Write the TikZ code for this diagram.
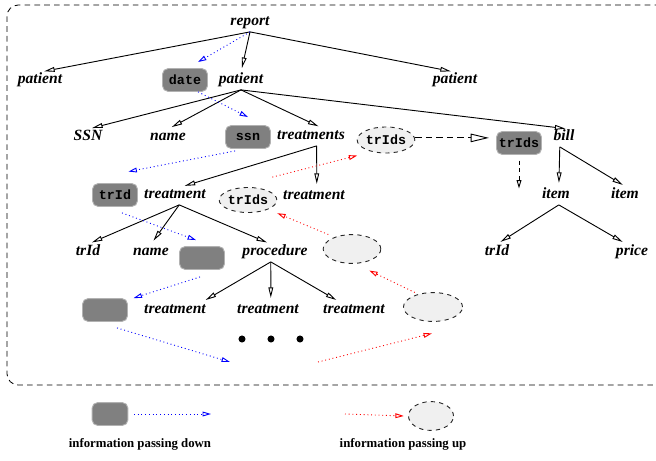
\documentclass[tikz,border=0pt]{standalone}
\usepackage{fontspec}
\setmainfont{Liberation Serif}
\setmonofont{Liberation Mono}
\usetikzlibrary{arrows.meta}
\usetikzlibrary{shapes.geometric}

\tikzset{
  lbl/.style={font=\fontsize{11.1}{12}\selectfont\bfseries\itshape, inner sep=1pt, text height=7pt, text depth=3pt},
  infobox/.style={draw=gray!60, fill=gray, rounded corners=4pt, minimum width=32pt, minimum height=16.3pt, inner sep=0pt, font=\fontsize{9.5}{10}\selectfont\ttfamily\bfseries},
  upell/.style={ellipse, draw=black!85, dashed, fill=black!6, minimum width=41pt, minimum height=18.5pt, inner sep=0pt, font=\fontsize{9.5}{10}\selectfont\ttfamily\bfseries},
  tree/.style={-{Triangle[open, length=7.5pt, width=3.4pt]}, shorten >=3pt},
  passdown/.style={blue, dotted, -{Triangle[open, length=6pt, width=3.4pt]}},
  passup/.style={red, dotted, -{Triangle[open, length=6pt, width=3.4pt]}},
  legendtxt/.style={font=\fontsize{9.1}{11}\selectfont\bfseries}
}

\begin{document}
\begin{tikzpicture}[x=0.025cm, y=-0.025cm, line width=0.65pt]
    \useasboundingbox (0,0) rectangle (656,460);
    % frame, open on the right
    \draw[dash pattern=on 4pt off 3pt, line width=0.6pt, rounded corners=8pt] (670,5) -- (7,5) -- (7,385) -- (670,385);

    % document tree
    \node[lbl] (rep) at (250,23) {report};
    \node[lbl] (patL) at (40,81) {patient};
    \node[infobox] (date) at (185,80) {date};
    \node[lbl] (patM) at (241,81) {patient};
    \node[lbl] (patR) at (455,81) {patient};
    \node[lbl] (ssnLbl) at (88,138) {SSN};
    \node[lbl] (nameA) at (168,138) {name};
    \node[infobox] (ssn) at (248,137) {ssn};
    \node[lbl] (trts) at (311,137) {treatments};
    \node[upell] (trIdsA) at (386,140) {trIds};
    \node[infobox] (trIdsB) at (519,143) {trIds};
    \node[lbl] (bill) at (564,138) {bill};
    \node[infobox] (trIdBox) at (115,195) {trId};
    \node[lbl] (trtA) at (175,196) {treatment};
    \node[upell, minimum height=17.8pt] (trIdsC) at (248,200) {trIds};
    \node[lbl] (trtB) at (314,197) {treatment};
    \node[lbl] (itemA) at (556,196) {item};
    \node[lbl] (itemB) at (625,196) {item};
    \node[lbl] (trIdA) at (88,253) {trId};
    \node[lbl] (nameB) at (151,253) {name};
    \node[infobox] (blankA) at (202,258) {};
    \node[lbl] (proc) at (275,253) {procedure};
    \node[upell, minimum height=20.5pt] (upA) at (352,249) {};
    \node[lbl] (trIdB) at (497,253) {trId};
    \node[lbl] (price) at (632,253) {price};
    \node[infobox] (blankB) at (105,310) {};
    \node[lbl] (trtC) at (175,311) {treatment};
    \node[lbl] (trtD) at (268,311) {treatment};
    \node[lbl] (trtE) at (354,311) {treatment};
    \node[upell, minimum width=42pt, minimum height=20.5pt] (upB) at (433,307) {};
    \node[circle, fill, inner sep=0pt, minimum size=5pt] (dotA) at (242,339) {};
    \node[circle, fill, inner sep=0pt, minimum size=5pt] (dotB) at (271,339) {};
    \node[circle, fill, inner sep=0pt, minimum size=5pt] (dotC) at (300,339) {};
    \coordinate (gapL) at (230,362);
    \coordinate (gapR) at (318,362);

    % edges
    \draw[tree] (rep.south) -- (patL.north);
    \draw[tree] (rep.south) -- (patM.north);
    \draw[tree] (rep.south) -- (patR.north);
    \draw[tree] (patM.south) -- (ssnLbl.north);
    \draw[tree] (patM.south) -- (nameA.north);
    \draw[tree] (patM.south) -- ([xshift=8pt]trts.north);
    \draw[tree] (patM.south) -- ([xshift=4pt]bill.north);
    \draw[tree] ([xshift=4pt]trts.south) -- ([xshift=4pt]trtA.north);
    \draw[tree] ([xshift=4pt]trts.south) -- ([xshift=2pt]trtB.north);
    \draw[tree] ([xshift=-3pt]bill.south) -- ([xshift=2pt]itemA.north);
    \draw[tree] ([xshift=-3pt]bill.south) -- ([xshift=1pt]itemB.north);
    \draw[tree] ([xshift=3pt]trtA.south) -- (trIdA.north);
    \draw[tree] ([xshift=3pt]trtA.south) -- (nameB.north);
    \draw[tree] ([xshift=3pt]trtA.south) -- ([xshift=-3pt]proc.north);
    \draw[tree] ([xshift=-3pt]proc.south) -- ([xshift=-4pt]trtC.north east);
    \draw[tree] ([xshift=-3pt]proc.south) -- ([xshift=2pt]trtD.north);
    \draw[tree] ([xshift=-3pt]proc.south) -- ([xshift=-10pt]trtE.north);
    \draw[tree] ([xshift=2pt]itemA.south) -- (trIdB.north);
    \draw[tree] ([xshift=2pt]itemA.south) -- ([xshift=-4pt]price.north);

    % trIds handed across to the bill
    \draw[dash pattern=on 4.5pt off 3pt, -{Triangle[open, length=13pt, width=6pt]}, shorten >=5pt] ([yshift=1.5pt]trIdsA.east) -- ([yshift=1.5pt]trIdsA.east -| trIdsB.west);
    \draw[dash pattern=on 3pt off 2.5pt, -{Triangle[open, length=6pt, width=3.4pt]}] ([yshift=-4pt]trIdsB.south) -- ++(0,28);

    % information passing down
    \draw[passdown] (rep.south) -- ([shift={(-10,-6)}]date.north east);
    \draw[passdown] ([xshift=-7pt]date.south east) -- ([shift={(0,-8)}]ssn.north);
    \draw[passdown] ([shift={(10,2)}]ssn.south west) -- ([shift={(-9.5,-11.5)}]trIdBox.north east);
    \draw[passdown] ([shift={(7,6)}]trIdBox.south) -- ([shift={(-6,-6)}]blankA.north);
    \draw[passdown] ([shift={(-2,7)}]blankA.south) -- ([xshift=4pt]blankB.north east);
    \draw[passdown] ([shift={(12,6)}]blankB.south) -- (gapL);

    % information passing up
    \draw[passup] (gapR) -- ([shift={(-1,11.5)}]upB.south);
    \draw[passup] ([shift={(3,-4)}]upB.north west) -- ([shift={(-3.5,11)}]upA.south east);
    \draw[passup] ([shift={(-3,-4)}]upA.north west) -- ([shift={(8.5,4)}]trIdsC.south east);
    \draw[passup] ([shift={(-9,-11)}]trtB.north west) -- ([shift={(-8,6)}]trIdsA.south west);

    % legend
    \node[infobox, minimum width=25.5pt] (lgBox) at (110,414) {};
    \coordinate (lgDn) at (211,414);
    \draw[passdown] ([xshift=4pt]lgBox.east) -- (lgDn);
    \node[upell, minimum width=32pt, minimum height=20.5pt] (lgEll) at (431,416) {};
    \coordinate (lgUp) at (345,414);
    \draw[passup] (lgUp) -- ([xshift=-3pt]lgEll.west);
    \node[legendtxt] (lgDnTxt) at (140,444) {information passing down};
    \node[legendtxt] (lgUpTxt) at (403,444) {information passing up};
\end{tikzpicture}
\end{document}
